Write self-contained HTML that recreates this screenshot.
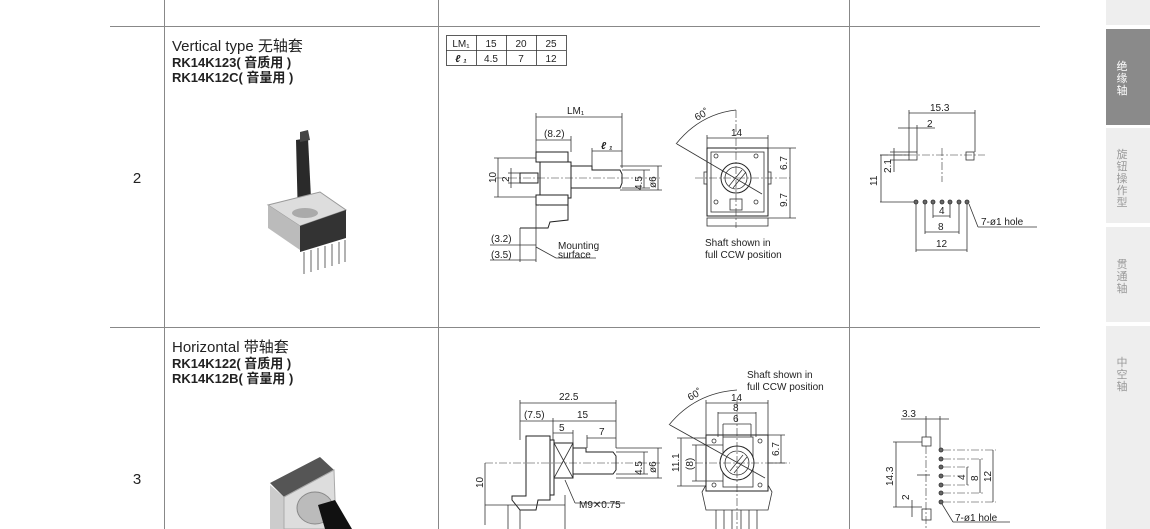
<!DOCTYPE html>
<html><head><meta charset="utf-8"><style>
html,body{margin:0;padding:0;background:#fff;width:1150px;height:529px;overflow:hidden}
svg{display:block}
text{font-family:"Liberation Sans","Noto Sans CJK SC",sans-serif;fill:#222}
.d{font-size:10px}
.l{stroke:#333;stroke-width:0.8;fill:none}
.c{stroke:#333;stroke-width:0.6;fill:none;stroke-dasharray:8 2 2 2}
.b{stroke:#222;stroke-width:1;fill:#fff}
.g{stroke:#888;stroke-width:1;fill:none}
</style></head><body>
<svg width="1150" height="529" viewBox="0 0 1150 529" xmlns="http://www.w3.org/2000/svg">
<line x1="164.5" y1="0" x2="164.5" y2="529" class="g"/>
<line x1="438.5" y1="0" x2="438.5" y2="529" class="g"/>
<line x1="849.5" y1="0" x2="849.5" y2="529" class="g"/>
<line x1="110" y1="26.5" x2="1040" y2="26.5" class="g"/>
<line x1="110" y1="327.5" x2="1040" y2="327.5" class="g"/>
<rect x="1106" y="0" width="44" height="25" fill="#eeeeee"/>
<rect x="1106" y="29" width="44" height="96" fill="#8a8a8a"/>
<rect x="1106" y="128" width="44" height="95" fill="#eeeeee"/>
<rect x="1106" y="227" width="44" height="95" fill="#eeeeee"/>
<rect x="1106" y="326" width="44" height="203" fill="#eeeeee"/>
<g font-size="11" text-anchor="middle">
<text x="1122" y="70" style="fill:#fff">绝</text><text x="1122" y="82" style="fill:#fff">缘</text><text x="1122" y="94" style="fill:#fff">轴</text>
<text x="1122" y="158" style="fill:#999">旋</text><text x="1122" y="170" style="fill:#999">钮</text><text x="1122" y="182" style="fill:#999">操</text><text x="1122" y="194" style="fill:#999">作</text><text x="1122" y="206" style="fill:#999">型</text>
<text x="1122" y="268" style="fill:#999">贯</text><text x="1122" y="280" style="fill:#999">通</text><text x="1122" y="292" style="fill:#999">轴</text>
<text x="1122" y="366" style="fill:#999">中</text><text x="1122" y="378" style="fill:#999">空</text><text x="1122" y="390" style="fill:#999">轴</text>
</g>
<text x="137" y="183" font-size="15" text-anchor="middle">2</text>
<text x="137" y="484" font-size="15" text-anchor="middle">3</text>
<text x="172" y="51" font-size="15">Vertical type 无轴套</text>
<text x="172" y="67" font-size="13" font-weight="bold">RK14K123( 音质用 )</text>
<text x="172" y="82" font-size="13" font-weight="bold">RK14K12C( 音量用 )</text>
<text x="172" y="352" font-size="15">Horizontal 带轴套</text>
<text x="172" y="368" font-size="13" font-weight="bold">RK14K122( 音质用 )</text>
<text x="172" y="383" font-size="13" font-weight="bold">RK14K12B( 音量用 )</text>
<g>
<polygon points="296,140 308,138 312,218 298,220" fill="#2a2a2a"/>
<polygon points="300,132 308,130 310,140 300,142" fill="#444"/>
<polygon points="268,205 320,192 346,210 300,226" fill="#ddd" stroke="#999"/>
<polygon points="268,205 300,226 300,250 268,228" fill="#bbb"/>
<polygon points="300,226 346,210 346,238 300,252" fill="#333"/>
<ellipse cx="305" cy="213" rx="13" ry="5" fill="#aaa"/>
<g stroke="#999" stroke-width="1.5">
<line x1="304" y1="252" x2="304" y2="274"/><line x1="311" y1="250" x2="311" y2="272"/><line x1="318" y1="248" x2="318" y2="270"/><line x1="325" y1="246" x2="325" y2="268"/><line x1="332" y1="244" x2="332" y2="266"/><line x1="339" y1="242" x2="339" y2="264"/><line x1="345" y1="240" x2="345" y2="262"/>
</g>
</g>
<g>
<polygon points="270,483 320,457 334,470 284,497" fill="#555"/>
<polygon points="270,485 284,497 284,529 270,529" fill="#ccc"/>
<polygon points="284,497 334,470 336,529 284,529" fill="#ddd" stroke="#aaa"/>
<ellipse cx="315" cy="508" rx="18" ry="16" fill="#bbb" stroke="#888"/>
<polygon points="318,505 335,500 352,529 325,529" fill="#111"/>
</g>
<g class="l" stroke="#333">
<rect x="446.5" y="35.5" width="120" height="30"/>
<line x1="446" y1="50.5" x2="566" y2="50.5"/>
<line x1="476.5" y1="35" x2="476.5" y2="65"/><line x1="506.5" y1="35" x2="506.5" y2="65"/><line x1="536.5" y1="35" x2="536.5" y2="65"/>
</g>
<g class="d" text-anchor="middle">
<text x="461" y="47">LM₁</text><text x="491" y="47">15</text><text x="521" y="47">20</text><text x="551" y="47">25</text>
<text x="461" y="62" font-style="italic" font-weight="bold">ℓ ₁</text><text x="491" y="62">4.5</text><text x="521" y="62">7</text><text x="551" y="62">12</text>
</g>
<g class="l">
<line x1="536" y1="117" x2="622" y2="117"/><line x1="536" y1="113" x2="536" y2="152"/><line x1="622" y1="113" x2="622" y2="168"/>
<line x1="536" y1="140" x2="571" y2="140"/><line x1="571" y1="136" x2="571" y2="152"/>
<line x1="592" y1="151" x2="622" y2="151"/><line x1="592" y1="148" x2="592" y2="166"/>
<rect x="536" y="152" width="32" height="10" class="b"/>
<rect x="540" y="162" width="31" height="36" class="b"/>
<rect x="536" y="195" width="32" height="10" class="b"/>
<path d="M540 205 L568 205 L568 220 L550 222 L548 228 L520 228" class="b"/>
<path d="M571 166 L592 166 L592 170 L620 170 L622 174 L622 183 L620 188 L571 188 Z" class="b"/>
<rect x="520" y="173" width="18" height="10" class="b"/>
<line x1="495" y1="178" x2="660" y2="178" class="c"/>
<line x1="494" y1="158" x2="536" y2="158"/><line x1="494" y1="197" x2="536" y2="197"/><line x1="498" y1="158" x2="498" y2="197"/>
<line x1="511" y1="168" x2="511" y2="188"/><line x1="508" y1="173" x2="520" y2="173"/><line x1="508" y1="183" x2="520" y2="183"/>
<line x1="622" y1="170" x2="650" y2="170"/><line x1="622" y1="188" x2="650" y2="188"/><line x1="644" y1="170" x2="644" y2="188"/>
<line x1="620" y1="166" x2="662" y2="166"/><line x1="620" y1="190" x2="662" y2="190"/><line x1="658" y1="166" x2="658" y2="190"/>
<line x1="520" y1="228" x2="520" y2="262"/><line x1="536" y1="205" x2="536" y2="262"/>
<line x1="490" y1="245" x2="536" y2="245"/><line x1="490" y1="260" x2="536" y2="260"/>
<line x1="536" y1="247" x2="556" y2="258"/><line x1="556" y1="258" x2="596" y2="258"/>
</g>
<g class="d">
<text x="567" y="114">LM₁</text><text x="544" y="137">(8.2)</text><text x="601" y="149" font-style="italic" font-weight="bold">ℓ ₁</text>
<text transform="translate(496,183) rotate(-90)">10</text>
<text transform="translate(509,182) rotate(-90)">2</text>
<text transform="translate(642,190) rotate(-90)">4.5</text>
<text transform="translate(656,188) rotate(-90)">ø6</text>
<text x="491" y="242">(3.2)</text><text x="491" y="258">(3.5)</text>
<text x="558" y="249">Mounting</text><text x="558" y="258">surface</text>
</g>
<g class="l">
<rect x="707" y="148" width="61" height="68" class="b"/>
<rect x="711" y="152" width="53" height="60"/>
<circle cx="736" cy="178" r="15" class="b"/><circle cx="736" cy="178" r="11"/>
<line x1="729" y1="186" x2="742" y2="170"/><line x1="733" y1="188" x2="746" y2="172"/>
<rect x="730" y="199" width="12" height="11"/>
<rect x="704" y="172" width="3" height="12"/><rect x="768" y="172" width="3" height="12"/>
<circle cx="716" cy="156" r="2"/><circle cx="756" cy="156" r="2"/><circle cx="716" cy="202" r="2"/><circle cx="756" cy="202" r="2"/>
<rect x="707" y="218" width="61" height="8"/>
<line x1="695" y1="178" x2="790" y2="178" class="c"/><line x1="736" y1="110" x2="736" y2="228" class="c"/>
<line x1="677" y1="144" x2="762" y2="194"/>
<path d="M676 144 Q700 114 736 110"/>
<line x1="707" y1="135" x2="707" y2="148"/><line x1="768" y1="135" x2="768" y2="148"/><line x1="707" y1="138" x2="768" y2="138"/>
<line x1="768" y1="148" x2="796" y2="148"/><line x1="768" y1="218" x2="796" y2="218"/><line x1="790" y1="148" x2="790" y2="218"/>
</g>
<g class="d">
<text transform="translate(697,121) rotate(-30)">60˚</text>
<text x="731" y="136">14</text>
<text transform="translate(787,170) rotate(-90)">6.7</text>
<text transform="translate(787,207) rotate(-90)">9.7</text>
<text x="705" y="246">Shaft shown in</text><text x="705" y="258">full CCW position</text>
</g>
<g class="l">
<line x1="909" y1="113" x2="975" y2="113"/><line x1="909" y1="110" x2="909" y2="152"/><line x1="975" y1="110" x2="975" y2="152"/>
<line x1="898" y1="128" x2="935" y2="128"/><line x1="917" y1="125" x2="917" y2="152"/>
<rect x="909" y="152" width="8" height="8"/><rect x="966" y="152" width="8" height="8"/>
<line x1="880" y1="155" x2="985" y2="155" class="c"/><line x1="942" y1="148" x2="942" y2="182" class="c"/>
<line x1="880" y1="155" x2="909" y2="155"/><line x1="880" y1="202" x2="918" y2="202"/><line x1="881" y1="155" x2="881" y2="202"/>
<line x1="894" y1="148" x2="894" y2="172"/><line x1="890" y1="152" x2="909" y2="152"/><line x1="890" y1="160" x2="909" y2="160"/>
<g fill="#666"><circle cx="916" cy="202" r="2"/><circle cx="925" cy="202" r="2"/><circle cx="933" cy="202" r="2"/><circle cx="942" cy="202" r="2"/><circle cx="950" cy="202" r="2"/><circle cx="959" cy="202" r="2"/><circle cx="967" cy="202" r="2"/></g>
<line x1="916" y1="204" x2="916" y2="252"/><line x1="967" y1="204" x2="967" y2="252"/><line x1="916" y1="250" x2="967" y2="250"/>
<line x1="925" y1="204" x2="925" y2="234"/><line x1="959" y1="204" x2="959" y2="234"/><line x1="925" y1="232" x2="959" y2="232"/>
<line x1="933" y1="204" x2="933" y2="218"/><line x1="950" y1="204" x2="950" y2="218"/><line x1="933" y1="216" x2="950" y2="216"/>
<line x1="969" y1="204" x2="978" y2="227"/><line x1="978" y1="227" x2="1037" y2="227"/>
</g>
<g class="d">
<text x="930" y="111">15.3</text><text x="927" y="127">2</text>
<text transform="translate(877,186) rotate(-90)">11</text>
<text transform="translate(891,173) rotate(-90)">2.1</text>
<text x="939" y="214">4</text><text x="938" y="230">8</text><text x="936" y="247">12</text>
<text x="981" y="225">7-ø1 hole</text>
</g>
<g class="l">
<line x1="520" y1="403" x2="616" y2="403"/><line x1="520" y1="400" x2="520" y2="440"/><line x1="616" y1="400" x2="616" y2="448"/>
<line x1="520" y1="421" x2="616" y2="421"/><line x1="553" y1="418" x2="553" y2="440"/>
<line x1="553" y1="433" x2="573" y2="433"/><line x1="573" y1="430" x2="573" y2="443"/>
<line x1="587" y1="438" x2="616" y2="438"/><line x1="587" y1="435" x2="587" y2="448"/>
<path d="M526 436 L550 436 L550 500 L538 500 L536 510 L520 510 L512 500 L512 496 L526 496 Z" class="b"/>
<rect x="550" y="440" width="4" height="55" class="b"/>
<rect x="554" y="443" width="19" height="35" class="b"/>
<line x1="554" y1="443" x2="573" y2="478"/><line x1="573" y1="443" x2="554" y2="478"/>
<path d="M573 448 L586 448 L586 452 L613 452 L616 456 L616 470 L613 474 L573 474 Z" class="b"/>
<line x1="485" y1="463" x2="660" y2="463" class="c"/>
<line x1="616" y1="452" x2="648" y2="452"/><line x1="616" y1="474" x2="648" y2="474"/><line x1="644" y1="452" x2="644" y2="474"/>
<line x1="616" y1="448" x2="662" y2="448"/><line x1="616" y1="478" x2="662" y2="478"/><line x1="658" y1="448" x2="658" y2="478"/>
<line x1="485" y1="463" x2="485" y2="525"/><line x1="485" y1="505" x2="565" y2="505"/>
<line x1="508" y1="505" x2="508" y2="529"/><line x1="520" y1="510" x2="520" y2="529"/><line x1="565" y1="495" x2="565" y2="529"/>
<line x1="565" y1="480" x2="575" y2="503"/><line x1="575" y1="503" x2="625" y2="503"/>
</g>
<g class="d">
<text x="559" y="400">22.5</text><text x="524" y="418">(7.5)</text><text x="577" y="418">15</text>
<text x="559" y="431">5</text><text x="599" y="435">7</text>
<text transform="translate(483,488) rotate(-90)">10</text>
<text transform="translate(642,475) rotate(-90)">4.5</text>
<text transform="translate(656,473) rotate(-90)">ø6</text>
<text x="579" y="508">M9✕0.75</text>
</g>
<g class="l">
<rect x="706" y="435" width="62" height="56" class="b"/>
<rect x="723" y="437" width="30" height="50"/>
<circle cx="737" cy="463" r="17" class="b"/><circle cx="737" cy="463" r="12"/>
<line x1="730" y1="471" x2="743" y2="455"/><line x1="734" y1="473" x2="747" y2="457"/>
<circle cx="714" cy="441" r="2"/><circle cx="760" cy="441" r="2"/><circle cx="714" cy="485" r="2"/><circle cx="760" cy="485" r="2"/>
<path d="M706 485 L702 492 L706 510 L768 510 L772 492 L768 485"/>
<g><line x1="716" y1="510" x2="716" y2="529"/><line x1="724" y1="510" x2="724" y2="529"/><line x1="732" y1="510" x2="732" y2="529"/><line x1="741" y1="510" x2="741" y2="529"/><line x1="749" y1="510" x2="749" y2="529"/><line x1="757" y1="510" x2="757" y2="529"/></g>
<line x1="695" y1="463" x2="790" y2="463" class="c"/><line x1="737" y1="400" x2="737" y2="529" class="c"/>
<line x1="670" y1="425" x2="765" y2="478"/>
<path d="M669 425 Q695 393 737 390"/>
<line x1="706" y1="400" x2="706" y2="435"/><line x1="768" y1="400" x2="768" y2="435"/><line x1="706" y1="403" x2="768" y2="403"/>
<line x1="718" y1="412" x2="718" y2="437"/><line x1="756" y1="412" x2="756" y2="437"/><line x1="718" y1="413" x2="756" y2="413"/>
<line x1="723" y1="424" x2="723" y2="437"/><line x1="751" y1="424" x2="751" y2="437"/><line x1="723" y1="424" x2="751" y2="424"/>
<line x1="677" y1="438" x2="706" y2="438"/><line x1="677" y1="486" x2="706" y2="486"/><line x1="681" y1="438" x2="681" y2="486"/>
<line x1="692" y1="445" x2="723" y2="445"/><line x1="692" y1="481" x2="723" y2="481"/><line x1="696" y1="445" x2="696" y2="481"/>
<line x1="768" y1="435" x2="785" y2="435"/><line x1="768" y1="463" x2="785" y2="463"/><line x1="781" y1="435" x2="781" y2="463"/>
</g>
<g class="d">
<text transform="translate(690,401) rotate(-30)">60˚</text>
<text x="731" y="401">14</text><text x="733" y="411">8</text><text x="733" y="422">6</text>
<text transform="translate(679,472) rotate(-90)">11.1</text>
<text transform="translate(693,470) rotate(-90)">(8)</text>
<text transform="translate(779,456) rotate(-90)">6.7</text>
<text x="747" y="378">Shaft shown in</text><text x="747" y="390">full CCW position</text>
</g>
<g class="l">
<line x1="901" y1="419" x2="949" y2="419"/><line x1="926" y1="416" x2="926" y2="437"/><line x1="940" y1="416" x2="940" y2="450"/>
<rect x="922" y="437" width="9" height="9"/><rect x="922" y="509" width="9" height="11"/>
<line x1="926" y1="446" x2="926" y2="529" class="c"/>
<line x1="917" y1="475" x2="930" y2="475"/>
<line x1="893" y1="442" x2="922" y2="442"/><line x1="893" y1="507" x2="922" y2="507"/><line x1="896" y1="442" x2="896" y2="507"/>
<line x1="912" y1="500" x2="912" y2="517"/>
<g fill="#666"><circle cx="941" cy="450" r="2"/><circle cx="941" cy="459" r="2"/><circle cx="941" cy="467" r="2"/><circle cx="941" cy="476" r="2"/><circle cx="941" cy="485" r="2"/><circle cx="941" cy="493" r="2"/><circle cx="941" cy="502" r="2"/></g>
<line x1="943" y1="450" x2="996" y2="450" class="c"/><line x1="943" y1="459" x2="983" y2="459" class="c"/><line x1="943" y1="467" x2="970" y2="467" class="c"/><line x1="943" y1="476" x2="962" y2="476" class="c"/><line x1="943" y1="485" x2="970" y2="485" class="c"/><line x1="943" y1="493" x2="983" y2="493" class="c"/><line x1="943" y1="502" x2="996" y2="502" class="c"/>
<line x1="967" y1="467" x2="967" y2="485"/><line x1="980" y1="459" x2="980" y2="493"/><line x1="993" y1="450" x2="993" y2="502"/>
<line x1="942" y1="504" x2="953" y2="522"/><line x1="953" y1="522" x2="1010" y2="522"/>
</g>
<g class="d">
<text x="902" y="417">3.3</text>
<text transform="translate(893,486) rotate(-90)">14.3</text>
<text transform="translate(909,500) rotate(-90)">2</text>
<text transform="translate(965,480) rotate(-90)">4</text>
<text transform="translate(978,481) rotate(-90)">8</text>
<text transform="translate(991,482) rotate(-90)">12</text>
<text x="955" y="521">7-ø1 hole</text>
</g>
</svg>
</body></html>
